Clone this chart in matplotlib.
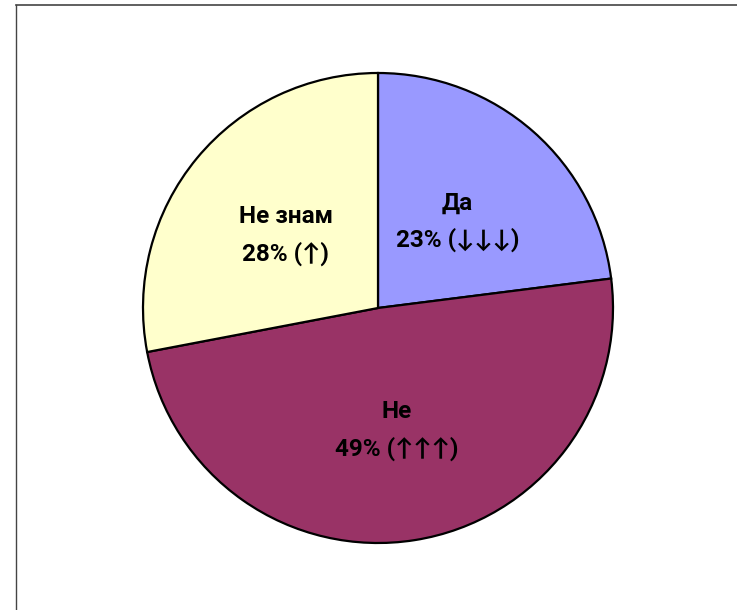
import matplotlib
matplotlib.use('Agg')
import matplotlib.pyplot as plt
from matplotlib.lines import Line2D
from matplotlib.transforms import offset_copy

# data
categories = ['Да', 'Не', 'Не знам']
shares = [23, 49, 28]
trends = ['↓↓↓', '↑↑↑', '↑']
colors = ['#9999FF', '#993366', '#FFFFCC']

W, H = 737, 610
fig = plt.figure(figsize=(W / 100, H / 100), dpi=100)
ax = fig.add_axes([0, 0, 1, 1])

labels = ['%s\n%d%% (%s)' % (c, s, t) for c, s, t in zip(categories, shares, trends)]
wedges, texts = ax.pie(shares, colors=colors, startangle=90, counterclock=False,
                       center=(378, H - 308), radius=235, labels=labels,
                       labeldistance=0.51, frame=True,
                       wedgeprops=dict(edgecolor='black', linewidth=1.6),
                       textprops=dict(fontsize=17.5, fontweight='bold',
                                      family=['Roboto', 'Lato', 'DejaVu Sans'],
                                      linespacing=1.7))
# nudge labels down a little
shifted = offset_copy(ax.transData, fig=fig, x=0, y=-4, units='dots')
for t in texts:
    t.set_horizontalalignment('center')
    t.set_verticalalignment('center')
    t.set_transform(shifted)
ax.set_xlim(0, W)
ax.set_ylim(0, H)
ax.set_aspect('equal')
ax.axis('off')

# frame lines (top and left only visible)
fig.add_artist(Line2D([16 / W, 1], [1 - 5 / H, 1 - 5 / H], color='#444444', lw=1.2,
                      transform=fig.transFigure))
fig.add_artist(Line2D([16 / W, 16 / W], [0, 1 - 5 / H], color='#444444', lw=1.0,
                      transform=fig.transFigure))

fig.savefig('out.png', dpi=100)
